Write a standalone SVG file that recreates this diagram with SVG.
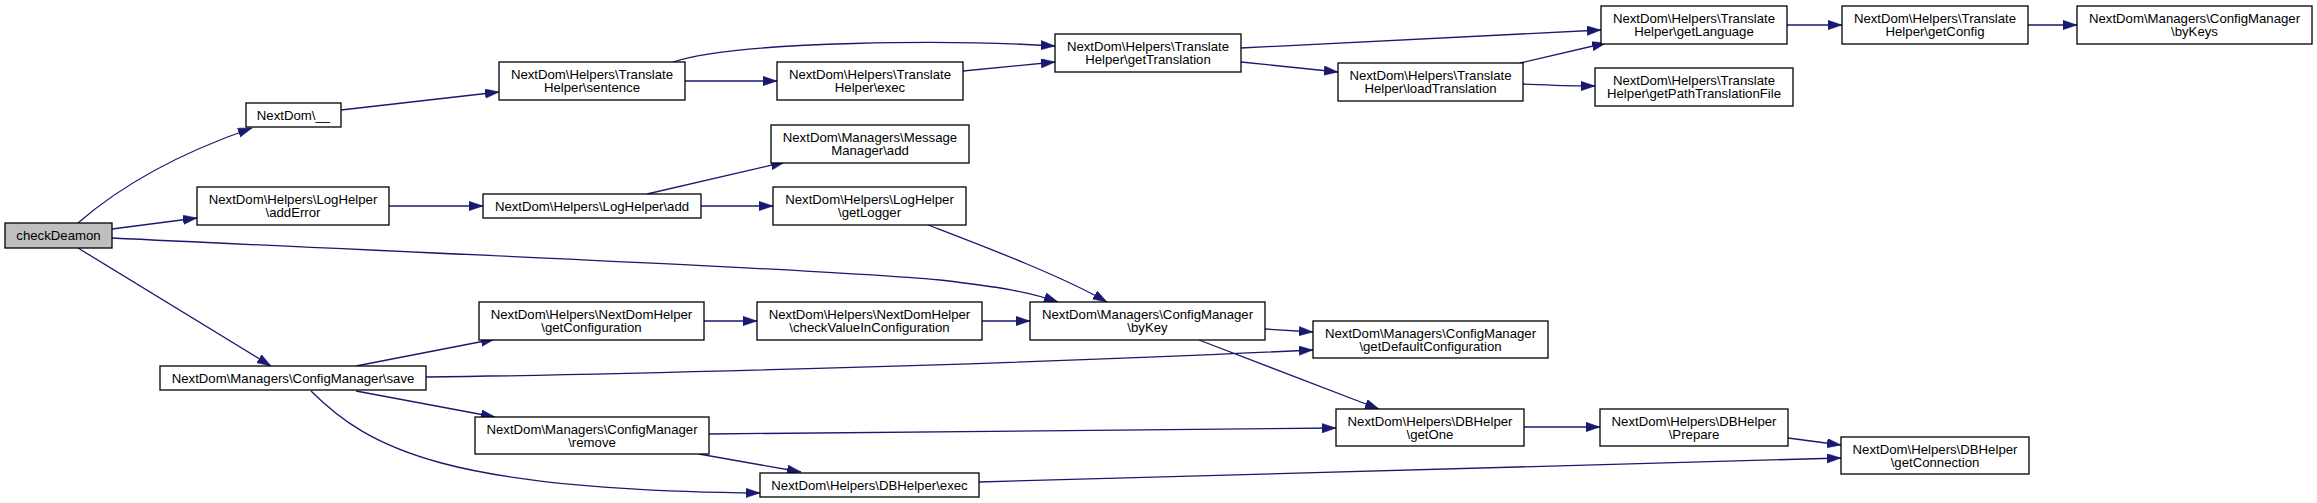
<svg xmlns="http://www.w3.org/2000/svg" width="2317" height="503" viewBox="0 0 2317 503">
<style>
.n rect{fill:#ffffff;stroke:#000000;stroke-width:1.3}
.n.root rect{fill:#bfbfbf}
.n text{font-family:"Liberation Sans",Arial,Helvetica,sans-serif;font-size:13.2px;fill:#000000;text-anchor:middle}
#edges path{fill:none;stroke:#191970;stroke-width:1.3;marker-end:url(#arr)}
</style>
<defs>
<marker id="arr" markerUnits="userSpaceOnUse" markerWidth="15" markerHeight="10" refX="14" refY="4.7" orient="auto">
<path d="M0,0 L14,4.7 L0,9.4 Z" fill="#191970" stroke="#191970" stroke-width="0.5"/>
</marker>
</defs>
<rect width="2317" height="503" fill="#ffffff"/>
<g id="edges">
<path d="M78,223 C110,195 160,160 252,128"/>
<path d="M112,229 L197,218"/>
<path d="M112,238 C400,252 800,268 940,280 C1000,287 1030,292 1058,302"/>
<path d="M78,248 L271,366"/>
<path d="M341,110 L499,92"/>
<path d="M685,81 L777,81"/>
<path d="M673,62 C740,40 960,40 1055,46"/>
<path d="M963,71 L1055,62"/>
<path d="M1241,48 L1601,30"/>
<path d="M1241,62 L1338,72"/>
<path d="M1520,63 L1606,43"/>
<path d="M1523,84 C1550,85 1570,86 1595,86"/>
<path d="M1787,25 L1842,25"/>
<path d="M2028,25 L2077,25"/>
<path d="M389,206 L483,206"/>
<path d="M647,194 L785,162"/>
<path d="M701,206 L773,206"/>
<path d="M928,225 C980,245 1060,275 1107,302"/>
<path d="M356,366 L495,339"/>
<path d="M426,377 C600,375 1000,365 1313,350"/>
<path d="M356,391 L495,417"/>
<path d="M311,391 C370,450 450,490 760,493"/>
<path d="M704,321 L757,321"/>
<path d="M982,321 L1030,321"/>
<path d="M1265,329 L1313,332"/>
<path d="M1199,340 L1379,409"/>
<path d="M709,434 C900,433 1100,431 1336,428"/>
<path d="M699,454 L801,472"/>
<path d="M1524,427 L1600,427"/>
<path d="M1788,438 L1841,445"/>
<path d="M979,482 L1841,458"/>
</g>
<g id="n_checkDeamon" class="n root"><rect x="5" y="223" width="107" height="25"/><text x="58.5" y="240">checkDeamon</text></g>
<g id="n_underscore" class="n"><rect x="246" y="103" width="95" height="24"/><text x="293.5" y="119.5">NextDom\__</text></g>
<g id="n_sentence" class="n"><rect x="499" y="62" width="186" height="38"/><text x="592" y="79">NextDom\Helpers\Translate</text><text x="592" y="92">Helper\sentence</text></g>
<g id="n_addError" class="n"><rect x="197" y="187" width="192" height="38"/><text x="293" y="204">NextDom\Helpers\LogHelper</text><text x="293" y="217">\addError</text></g>
<g id="n_logAdd" class="n"><rect x="483" y="194" width="218" height="24"/><text x="592" y="210.5">NextDom\Helpers\LogHelper\add</text></g>
<g id="n_save" class="n"><rect x="160" y="366" width="266" height="24"/><text x="293" y="382.5">NextDom\Managers\ConfigManager\save</text></g>
<g id="n_exec" class="n"><rect x="777" y="62" width="186" height="38"/><text x="870" y="79">NextDom\Helpers\Translate</text><text x="870" y="92">Helper\exec</text></g>
<g id="n_getTranslation" class="n"><rect x="1055" y="34" width="186" height="38"/><text x="1148" y="51">NextDom\Helpers\Translate</text><text x="1148" y="64">Helper\getTranslation</text></g>
<g id="n_loadTranslation" class="n"><rect x="1338" y="63" width="185" height="38"/><text x="1430.5" y="80">NextDom\Helpers\Translate</text><text x="1430.5" y="93">Helper\loadTranslation</text></g>
<g id="n_getLanguage" class="n"><rect x="1601" y="6" width="186" height="38"/><text x="1694" y="23">NextDom\Helpers\Translate</text><text x="1694" y="36">Helper\getLanguage</text></g>
<g id="n_getConfig" class="n"><rect x="1842" y="6" width="186" height="38"/><text x="1935" y="23">NextDom\Helpers\Translate</text><text x="1935" y="36">Helper\getConfig</text></g>
<g id="n_byKeys" class="n"><rect x="2077" y="6" width="235" height="38"/><text x="2194.5" y="23">NextDom\Managers\ConfigManager</text><text x="2194.5" y="36">\byKeys</text></g>
<g id="n_getPath" class="n"><rect x="1595" y="68" width="198" height="38"/><text x="1694" y="85">NextDom\Helpers\Translate</text><text x="1694" y="98">Helper\getPathTranslationFile</text></g>
<g id="n_msgAdd" class="n"><rect x="771" y="125" width="198" height="38"/><text x="870" y="142">NextDom\Managers\Message</text><text x="870" y="155">Manager\add</text></g>
<g id="n_getLogger" class="n"><rect x="773" y="187" width="193" height="38"/><text x="869.5" y="204">NextDom\Helpers\LogHelper</text><text x="869.5" y="217">\getLogger</text></g>
<g id="n_getConfiguration" class="n"><rect x="479" y="302" width="225" height="38"/><text x="591.5" y="319">NextDom\Helpers\NextDomHelper</text><text x="591.5" y="332">\getConfiguration</text></g>
<g id="n_checkValue" class="n"><rect x="757" y="302" width="225" height="38"/><text x="869.5" y="319">NextDom\Helpers\NextDomHelper</text><text x="869.5" y="332">\checkValueInConfiguration</text></g>
<g id="n_byKey" class="n"><rect x="1030" y="302" width="235" height="38"/><text x="1147.5" y="319">NextDom\Managers\ConfigManager</text><text x="1147.5" y="332">\byKey</text></g>
<g id="n_getDefault" class="n"><rect x="1313" y="321" width="235" height="37"/><text x="1430.5" y="337.5">NextDom\Managers\ConfigManager</text><text x="1430.5" y="350.5">\getDefaultConfiguration</text></g>
<g id="n_remove" class="n"><rect x="475" y="417" width="234" height="37"/><text x="592" y="433.5">NextDom\Managers\ConfigManager</text><text x="592" y="446.5">\remove</text></g>
<g id="n_getOne" class="n"><rect x="1336" y="409" width="188" height="37"/><text x="1430" y="425.5">NextDom\Helpers\DBHelper</text><text x="1430" y="438.5">\getOne</text></g>
<g id="n_prepare" class="n"><rect x="1600" y="409" width="188" height="37"/><text x="1694" y="425.5">NextDom\Helpers\DBHelper</text><text x="1694" y="438.5">\Prepare</text></g>
<g id="n_getConnection" class="n"><rect x="1841" y="437" width="188" height="37"/><text x="1935" y="453.5">NextDom\Helpers\DBHelper</text><text x="1935" y="466.5">\getConnection</text></g>
<g id="n_dbExec" class="n"><rect x="760" y="473" width="219" height="24"/><text x="869.5" y="489.5">NextDom\Helpers\DBHelper\exec</text></g>
</svg>
